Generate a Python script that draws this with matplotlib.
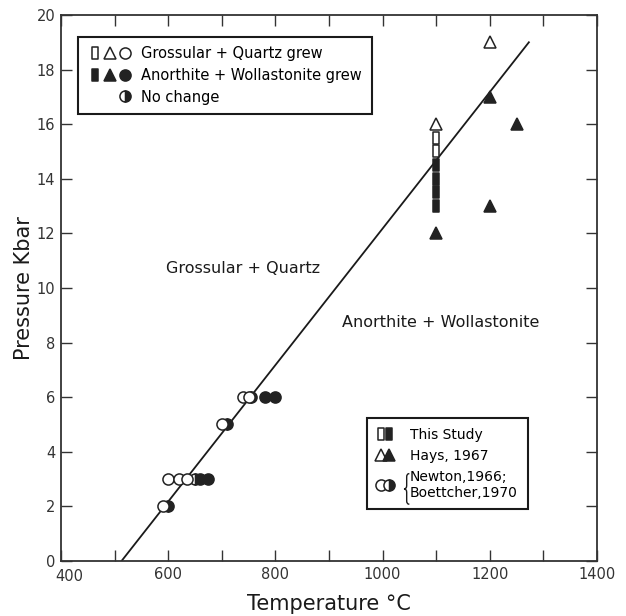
import matplotlib
matplotlib.use("Agg")
import matplotlib.pyplot as plt
from matplotlib.path import Path
from matplotlib.patches import PathPatch
from matplotlib.lines import Line2D
from matplotlib.legend_handler import HandlerTuple
from matplotlib.transforms import ScaledTranslation

# ---------------- data ----------------
# This study (squares), 1100 C
study_open_T = [1100, 1100]
study_open_P = [15.5, 15.0]
study_fill_T = [1100, 1100, 1100, 1100]
study_fill_P = [14.5, 14.0, 13.5, 13.0]
# Hays, 1967 (triangles)
hays_open_T = [1100, 1200]
hays_open_P = [16, 19]
hays_fill_T = [1200, 1250, 1200, 1100]
hays_fill_P = [17, 16, 13, 12]
# Newton, 1966; Boettcher, 1970 (circles)
newton_open_T = [590, 600, 620, 635, 700, 740, 750]
newton_open_P = [2, 3, 3, 3, 5, 6, 6]
newton_half_T = [600, 650, 710, 755]
newton_half_P = [2, 3, 5, 6]
newton_fill_T = [660, 675, 780, 800]
newton_fill_P = [3, 3, 6, 6]
# Equilibrium curve
curve_T = [513, 1273]
curve_P = [0, 19]

x_ticks = [400, 600, 800, 1000, 1200, 1400]
y_ticks = [0, 2, 4, 6, 8, 10, 12, 14, 16, 18, 20]

# ---------------- style ----------------
DARK = "#222222"
AX = "#333333"
rect = Path([(-0.3, -0.5), (0.3, -0.5), (0.3, 0.5), (-0.3, 0.5), (-0.3, -0.5)],
            [Path.MOVETO, Path.LINETO, Path.LINETO, Path.LINETO, Path.CLOSEPOLY])

fig = plt.figure(figsize=(6.26, 6.16), dpi=100)
ax = fig.add_axes([0.0974, 0.0893, 0.8562, 0.8864])
ax.set_xlim(400, 1400)
ax.set_ylim(0, 20)

ax.plot(curve_T, curve_P, color="#1a1a1a", lw=1.3, zorder=2)

mk = dict(ls="none", mec=DARK, mew=1.1)
# filled / half first, open on top
ax.plot(newton_fill_T, newton_fill_P, marker="o", ms=8, mfc=DARK, zorder=3, **mk)
ax.plot(newton_half_T, newton_half_P, marker="o", ms=8, fillstyle="right",
        mfc=DARK, markerfacecoloralt="white", zorder=3, **mk)
ax.plot(newton_open_T, newton_open_P, marker="o", ms=8, mfc="white", zorder=4, **mk)
ax.plot(study_fill_T, study_fill_P, marker=rect, ms=8.3, mfc=DARK, zorder=3, **mk)
ax.plot(study_open_T, study_open_P, marker=rect, ms=8.3, mfc="white", zorder=3, **mk)
ax.plot(hays_fill_T, hays_fill_P, marker="^", ms=9, mfc=DARK, zorder=3, **mk)
ax.plot(hays_open_T, hays_open_P, marker="^", ms=9, mfc="white", zorder=3, **mk)

# region labels
ax.text(740, 10.73, "Grossular + Quartz", ha="center", va="center", fontsize=11.5, color="#1a1a1a")
ax.text(1109, 8.72, "Anorthite + Wollastonite", ha="center", va="center", fontsize=11.5, color="#1a1a1a")

# axes & ticks
ax.set_xticks(x_ticks)
ax.set_xticks(range(400, 1401, 100), minor=True)
ax.set_yticks(y_ticks)
ax.tick_params(which="both", direction="in", top=True, right=True, length=8, width=1,
               color=AX, labelsize=10.5, labelcolor="#333333", pad=4)
for lab in ax.get_xticklabels() + ax.get_yticklabels():
    lab.set_family("Liberation Sans Narrow")
first = ax.get_xticklabels()[0]
first.set_transform(first.get_transform() + ScaledTranslation(6 / 72, -2 / 72, fig.dpi_scale_trans))
for s in ax.spines.values():
    s.set_linewidth(1.3)
    s.set_color(AX)
ax.set_xlabel("Temperature °C", fontsize=15, color="#1a1a1a", labelpad=7)
ax.set_ylabel("Pressure Kbar", fontsize=15, color="#1a1a1a", labelpad=2)

# ---------------- legends ----------------
def h(marker, ms, face, **kw):
    return Line2D([], [], ls="none", marker=marker, ms=ms, mfc=face, mec=DARK, mew=1.1, **kw)

blank = Line2D([], [], ls="none", marker="")
half = h("o", 8, DARK, fillstyle="right", markerfacecoloralt="white")

leg1 = ax.legend(
    [(h(rect, 8.3, "white"), h("^", 9, "white"), h("o", 8, "white")),
     (h(rect, 8.3, DARK), h("^", 9, DARK), h("o", 8, DARK)),
     (blank, blank, half)],
    ["Grossular + Quartz grew", "Anorthite + Wollastonite grew", "No change"],
    handler_map={tuple: HandlerTuple(ndivide=None, pad=0)},
    loc="upper left", bbox_to_anchor=(0.0317, 0.9597), borderaxespad=0,
    fontsize=10.5, handlelength=3.1, handletextpad=0.6, labelspacing=0.45,
    borderpad=0.65, fancybox=False, framealpha=1, edgecolor="#1a1a1a")
leg1.get_frame().set_linewidth(1.5)
ax.add_artist(leg1)

leg2 = ax.legend(
    [(h(rect, 8.3, "white"), h(rect, 8.3, DARK)),
     (h("^", 9, "white"), h("^", 9, DARK)),
     (h("o", 8, "white"), half)],
    ["This Study", "Hays, 1967", "Newton,1966;\nBoettcher,1970"],
    handler_map={tuple: HandlerTuple(ndivide=None, pad=0)},
    loc="upper left", bbox_to_anchor=(0.571, 0.262), borderaxespad=0,
    fontsize=10, handlelength=1.15, handletextpad=1.25, labelspacing=0.5,
    borderpad=0.7, fancybox=False, framealpha=1, edgecolor="#1a1a1a")
leg2.get_frame().set_linewidth(1.5)

# brace grouping the two reference lines (drawn as a path, in axes fraction)
bx0, bx1 = 0.640, 0.650
by0, by1 = 0.104, 0.160
bm = (by0 + by1) / 2
bxm = (bx0 + bx1) / 2
d = 0.006
brace = Path(
    [(bx1, by1), (bxm, by1), (bxm, by1 - d), (bxm, bm + d), (bxm, bm), (bx0, bm),
     (bxm, bm), (bxm, bm - d), (bxm, by0 + d), (bxm, by0), (bx1, by0)],
    [Path.MOVETO, Path.CURVE3, Path.CURVE3, Path.LINETO, Path.CURVE3, Path.CURVE3,
     Path.CURVE3, Path.CURVE3, Path.LINETO, Path.CURVE3, Path.CURVE3])
ax.add_patch(PathPatch(brace, transform=ax.transAxes, fill=False, lw=1.0,
                       edgecolor="#1a1a1a", zorder=10, clip_on=False))

fig.savefig("out.png", dpi=100)
